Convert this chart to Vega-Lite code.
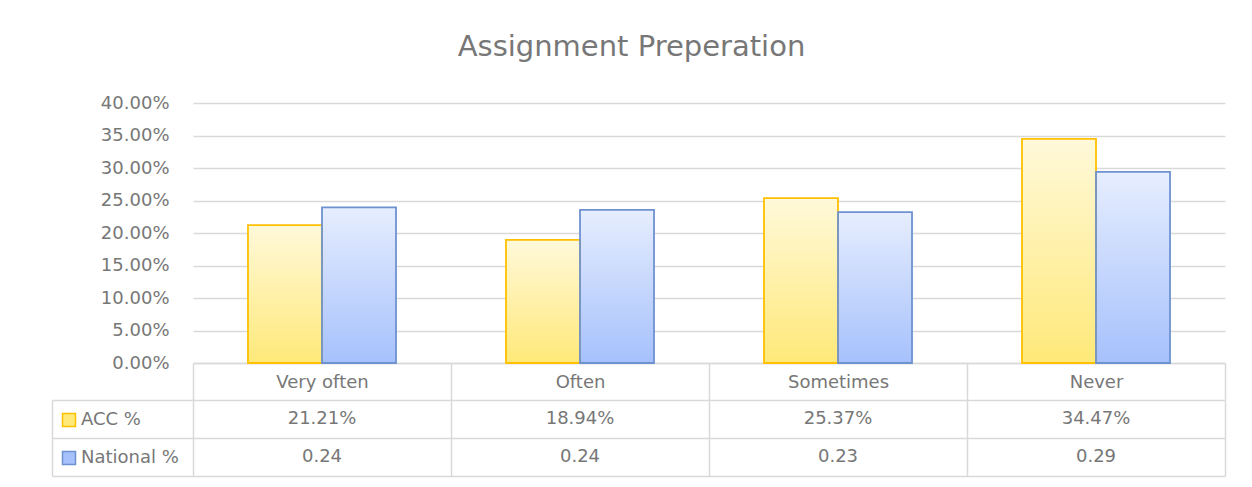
{
  "$schema": "https://vega.github.io/schema/vega-lite/v6.json",
  "padding": {"left": 51, "top": 33, "right": 10, "bottom": 5},
  "background": "white",
  "title": {"text": "Assignment Preperation", "fontSize": 29, "font": "DejaVu Sans", "fontWeight": "normal", "color": "#777777", "anchor": "middle", "frame": "bounds", "offset": 32, "dx": -7},
  "datasets": {
    "d": [
      {"cat": "Very often", "series": "ACC %", "value": 0.2121, "label": "21.21%"},
      {"cat": "Often", "series": "ACC %", "value": 0.1894, "label": "18.94%"},
      {"cat": "Sometimes", "series": "ACC %", "value": 0.2537, "label": "25.37%"},
      {"cat": "Never", "series": "ACC %", "value": 0.3447, "label": "34.47%"},
      {"cat": "Very often", "series": "National %", "value": 0.2395, "label": "0.24"},
      {"cat": "Often", "series": "National %", "value": 0.2355, "label": "0.24"},
      {"cat": "Sometimes", "series": "National %", "value": 0.232, "label": "0.23"},
      {"cat": "Never", "series": "National %", "value": 0.294, "label": "0.29"}
    ]
  },
  "config": {"font": "DejaVu Sans", "view": {"stroke": null}},
  "resolve": {"legend": {"fill": "independent", "stroke": "independent"}},
  "bounds": "flush",
  "spacing": 37,
  "vconcat": [
    {
      "width": 1032,
      "height": 260,
      "data": {"name": "d"},
      "encoding": {
        "x": {"field": "cat", "type": "nominal", "sort": ["Very often", "Often", "Sometimes", "Never"], "scale": {"paddingInner": 0, "paddingOuter": 0},
          "axis": {"title": null, "labelAngle": 0, "labelFontSize": 18, "labelFont": "DejaVu Sans", "labelColor": "#777777", "tickBand": "extent", "ticks": true, "tickSize": 37, "tickColor": "#d9d9d9", "tickWidth": 1.5, "labelPadding": -18, "labelBaseline": "middle", "domain": true, "domainColor": "#d9d9d9", "domainWidth": 1.5, "grid": false}},
        "xOffset": {"field": "series", "type": "nominal", "sort": ["ACC %", "National %"], "scale": {"paddingInner": 0, "paddingOuter": 0.743}},
        "y": {"field": "value", "type": "quantitative", "scale": {"domain": [0, 0.4]},
          "axis": {"title": null, "values": [0, 0.05, 0.1, 0.15, 0.2, 0.25, 0.3, 0.35, 0.4], "format": ".2%", "labelFontSize": 18, "labelFont": "DejaVu Sans", "labelColor": "#777777", "labelPadding": 24, "ticks": false, "domain": false, "grid": true, "gridColor": "#d9d9d9", "gridWidth": 1.5}}
      },
      "layer": [
        {
          "mark": {"type": "bar", "strokeWidth": 0},
          "encoding": {
            "fill": {"field": "series", "type": "nominal", "sort": ["ACC %", "National %"], "scale": {"range": ["#ffe979", "#a6c1fc"]},
              "legend": {"title": null, "orient": "none", "legendX": -133, "legendY": 308, "symbolType": "square", "symbolSize": 169, "symbolStrokeWidth": 1.5, "labelFontSize": 18, "labelColor": "#777777", "labelFont": "DejaVu Sans", "rowPadding": 18, "labelOffset": 3, "padding": 0,
                "encode": {"symbols": {"update": {
                  "fill": {"signal": "datum.value === 'ACC %' ? '#fff2b5' : '#cddbfc'"},
                  "stroke": {"signal": "datum.value === 'ACC %' ? '#ffc000' : '#6e92d0'"},
                  "strokeWidth": {"value": 1.5}
                }}}}}
          }
        },
        {
          "mark": {"type": "bar", "strokeWidth": 0, "fill": {"gradient": "linear", "x1": 0, "y1": 0, "x2": 0, "y2": 1, "stops": [{"offset": 0, "color": "rgba(255,255,255,0.72)"}, {"offset": 1, "color": "rgba(255,255,255,0)"}]}},
          "encoding": {}
        },
        {
          "mark": {"type": "bar", "fillOpacity": 0, "strokeWidth": 1.8},
          "encoding": {
            "stroke": {"field": "series", "type": "nominal", "sort": ["ACC %", "National %"], "scale": {"range": ["#ffc000", "#6e92d0"]}, "legend": null}
          }
        }
      ]
    },
    {
      "width": 1032,
      "height": 76,
      "data": {"name": "d"},
      "mark": {"type": "text", "fontSize": 18, "font": "DejaVu Sans", "color": "#777777"},
      "encoding": {
        "x": {"field": "cat", "type": "nominal", "sort": ["Very often", "Often", "Sometimes", "Never"], "scale": {"paddingInner": 0, "paddingOuter": 0},
          "axis": {"orient": "top", "title": null, "labels": false, "ticks": false, "domain": false, "grid": true, "tickBand": "extent", "gridColor": "#d9d9d9", "gridWidth": 1.5}},
        "y": {"field": "series", "type": "nominal", "sort": ["ACC %", "National %"], "scale": {"paddingInner": 0, "paddingOuter": 0},
          "axis": {"title": null, "labels": false, "offset": 141, "domain": true, "domainColor": "#d9d9d9", "domainWidth": 1.5, "ticks": true, "tickSize": -141, "tickBand": "extent", "tickColor": "#d9d9d9", "tickWidth": 1.5, "grid": true, "gridColor": "#d9d9d9", "gridWidth": 1.5}},
        "text": {"field": "label"}
      }
    }
  ]
}
